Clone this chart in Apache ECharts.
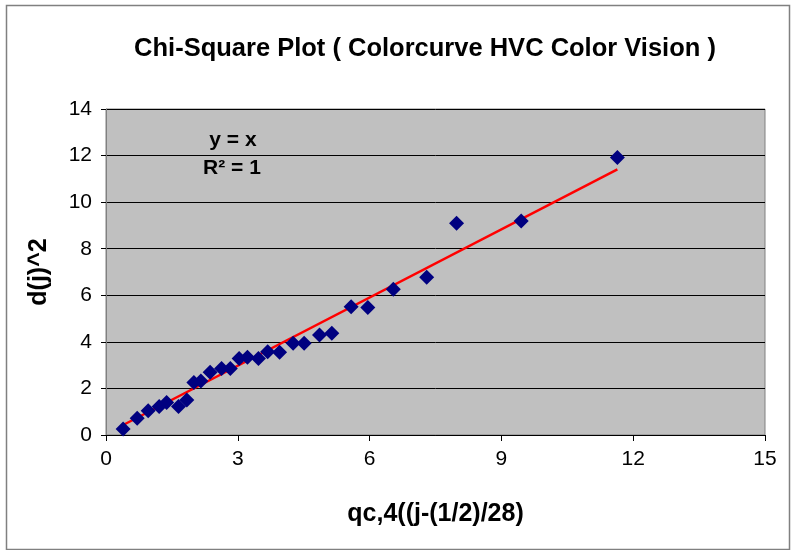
<!DOCTYPE html>
<html>
<head>
<meta charset="utf-8">
<script src="https://cdn.jsdelivr.net/npm/echarts@6/dist/echarts.min.js"></script>
<style>
html,body{margin:0;padding:0;background:#fff;}
#c{width:791px;height:550px;}
</style>
</head>
<body>
<div id="c"></div>
<script>
// Data
var qcValues = [0.39, 0.71, 0.96, 1.21, 1.38, 1.65, 1.84, 2.00, 2.16, 2.37, 2.63, 2.83,
                3.03, 3.22, 3.47, 3.68, 3.95, 4.26, 4.51, 4.86, 5.14,
                5.58, 5.96, 6.54, 7.30, 7.98, 9.45, 11.64];
var dSquared = [0.26, 0.72, 1.04, 1.22, 1.40, 1.22, 1.50, 2.25, 2.32, 2.69, 2.86, 2.86,
                3.29, 3.34, 3.29, 3.58, 3.55, 3.94, 3.94, 4.29, 4.37,
                5.51, 5.48, 6.26, 6.77, 9.09, 9.19, 11.92];
var trendX = [0.39, 11.64];
var trendY = [0.43, 11.41];
var xTicks = [0, 3, 6, 9, 12, 15];
var yTicks = [0, 2, 4, 6, 8, 10, 12, 14];
var titleText = 'Chi-Square Plot ( Colorcurve HVC Color Vision )';
var xName = 'qc,4((j-(1/2)/28)';
var yName = 'd(j)^2';
var eqText = 'y = x';
var r2Text = 'R\u00B2 = 1';

var pts = qcValues.map(function (x, i) { return [x, dSquared[i]]; });
var trend = trendX.map(function (x, i) { return [x, trendY[i]]; });
var FONT = '"Liberation Sans", Arial, sans-serif';

var chart = echarts.init(document.getElementById('c'), null, {renderer: 'canvas'});
chart.setOption({
  animation: false,
  backgroundColor: '#ffffff',
  grid: {
    left: 106, top: 109, width: 659, height: 326,
    show: true, backgroundColor: '#C0C0C0', borderColor: '#808080', borderWidth: 1
  },
  xAxis: {
    type: 'value', min: xTicks[0], max: xTicks[xTicks.length - 1], interval: 3,
    name: xName, nameLocation: 'middle', nameGap: 67,
    nameTextStyle: {fontFamily: FONT, fontWeight: 'bold', fontSize: 25, color: '#000'},
    axisLine: {show: true, onZero: false, lineStyle: {color: '#000', width: 1}},
    axisTick: {show: true, inside: false, length: 6, lineStyle: {color: '#000'}},
    axisLabel: {fontFamily: FONT, fontSize: 21, color: '#000', margin: 14},
    splitLine: {show: false}
  },
  yAxis: {
    type: 'value', min: yTicks[0], max: yTicks[yTicks.length - 1], interval: 2,
    name: yName, nameLocation: 'middle', nameGap: 54, nameRotate: 90,
    nameTextStyle: {fontFamily: FONT, fontWeight: 'bold', fontSize: 25, color: '#000'},
    axisLine: {show: true, onZero: false, lineStyle: {color: '#808080', width: 1}},
    axisTick: {show: true, inside: false, length: 5, lineStyle: {color: '#000'}},
    axisLabel: {fontFamily: FONT, fontSize: 21, color: '#000', margin: 14},
    splitLine: {show: true, lineStyle: {color: '#000', width: 1}}
  },
  series: [
    {
      type: 'line', data: trend, symbol: 'none', z: 3,
      lineStyle: {color: '#FF0000', width: 2.5}
    },
    {
      type: 'scatter', data: pts, symbol: 'diamond', symbolSize: [15, 15], z: 4,
      itemStyle: {color: '#000080', opacity: 1}
    }
  ],
  graphic: [
    {type: 'rect', left: 4, top: 3, shape: {width: 783, height: 544}, z: -10,
     style: {fill: 'none', stroke: '#808080', lineWidth: 1.5}},
    {type: 'text', x: 425, y: 49, z: 10,
     style: {text: titleText, font: 'bold 25.5px ' + FONT, fill: '#000',
             align: 'center', verticalAlign: 'middle'}},
    {type: 'text', x: 233, y: 140, z: 10,
     style: {text: eqText, font: 'bold 21px ' + FONT, fill: '#000',
             align: 'center', verticalAlign: 'middle'}},
    {type: 'text', x: 232, y: 168, z: 10,
     style: {text: r2Text, font: 'bold 21px ' + FONT, fill: '#000',
             align: 'center', verticalAlign: 'middle'}}
  ]
});
</script>
</body>
</html>
